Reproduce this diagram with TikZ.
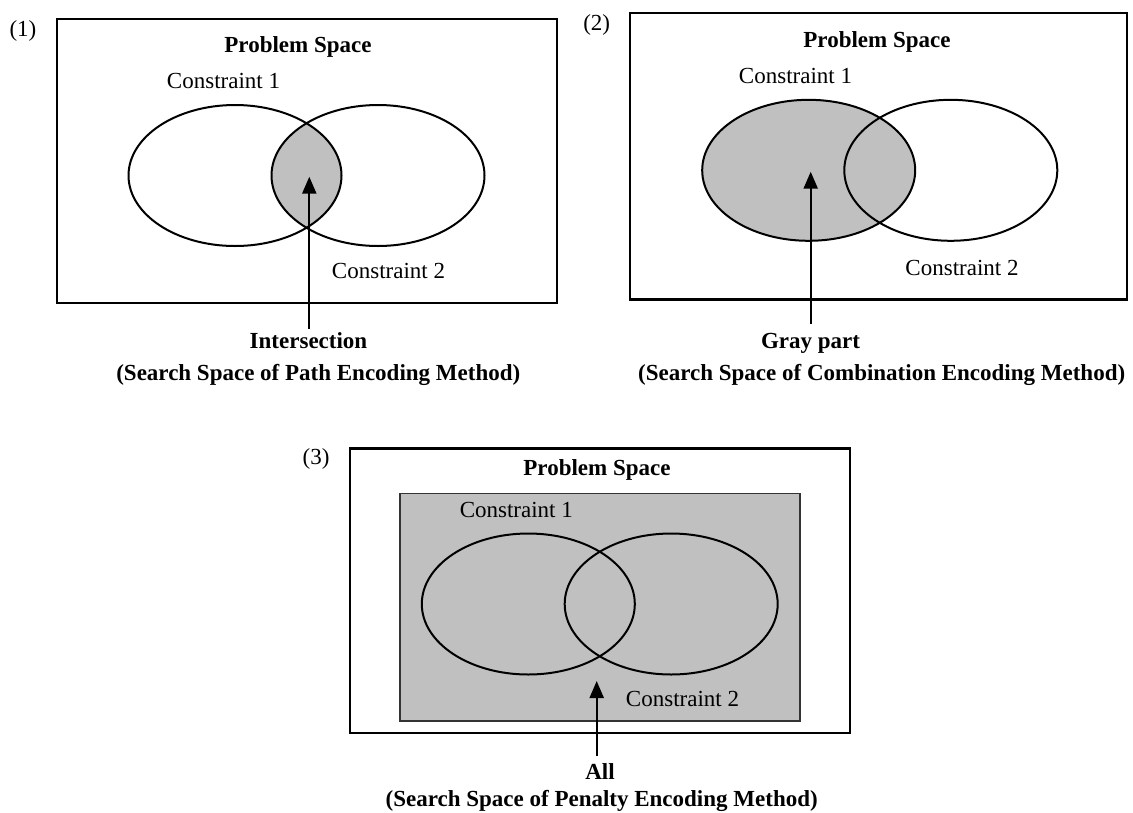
\documentclass[tikz,border=0pt]{standalone}
\usepackage{fontspec}
\setmainfont{Liberation Serif}
\usetikzlibrary{arrows.meta}
\definecolor{grayfill}{RGB}{192,192,192}
\tikzset{
  frame/.style={draw=black, line width=2.4pt},
  inner/.style={draw=black!80, line width=1.6pt, fill=grayfill},
  venn/.style={draw=black, line width=2pt},
  pointer/.style={draw=black, line width=2.2pt, -{Triangle[length=17pt,width=14pt]}},
  txt/.style={inner sep=0pt, anchor=base, font=\fontsize{23}{27}\selectfont},
  btxt/.style={txt, font=\fontsize{23}{27}\selectfont\bfseries},
}
\begin{document}
\begin{tikzpicture}[x=1pt,y=-1pt]
\useasboundingbox (0,0) rectangle (1133,812);
\fill[white] (0,0) rectangle (1133,812);

% ---------- Panel 1 ----------
\node[txt] (n1) at (23,36) {(1)};
\draw[frame] (57,19) rectangle (557,303);
\begin{scope}
  \clip (235,175.5) ellipse [x radius=106.5, y radius=70.5];
  \fill[grayfill] (378,175.5) ellipse [x radius=106.5, y radius=70.5];
\end{scope}
\draw[venn] (235,175.5) ellipse [x radius=106.5, y radius=70.5];
\draw[venn] (378,175.5) ellipse [x radius=106.5, y radius=70.5];
\node[btxt] (ps1) at (298,52) {Problem Space};
\node[txt] (c11) at (223.5,88.5) {Constraint 1};
\node[txt] (c21) at (388.5,278.3) {Constraint 2};
\coordinate (a1s) at (309.3,328.5);
\coordinate (a1t) at (309.3,176.7);
\draw[pointer] (a1s) -- (a1t);
\node[btxt] (l1a) at (308.5,348.5) {Intersection};
\node[btxt] (l1b) at (318.3,380) {(Search Space of Path Encoding Method)};

% ---------- Panel 2 ----------
\node[txt] (n2) at (596.7,30) {(2)};
\draw[frame] (630,13) rectangle (1127,299.3);
\fill[grayfill] (808.7,170.3) ellipse [x radius=106.5, y radius=70.5];
\draw[venn] (808.7,170.3) ellipse [x radius=106.5, y radius=70.5];
\draw[venn] (950.8,170.3) ellipse [x radius=106.5, y radius=70.5];
\node[btxt] (ps2) at (877,47) {Problem Space};
\node[txt] (c12) at (795.5,83) {Constraint 1};
\node[txt] (c22) at (962,275) {Constraint 2};
\coordinate (a2s) at (810.7,323.5);
\coordinate (a2t) at (810.7,171.7);
\draw[pointer] (a2s) -- (a2t);
\node[btxt] (l2a) at (810.5,348) {Gray part};
\node[btxt] (l2b) at (881.7,380) {(Search Space of Combination Encoding Method)};

% ---------- Panel 3 ----------
\node[txt] (n3) at (316,464) {(3)};
\draw[frame] (350,448.3) rectangle (850,733);
\draw[inner] (400,493.3) rectangle (800,721);
\draw[venn] (528.3,604) ellipse [x radius=106.5, y radius=70.5];
\draw[venn] (671.2,604) ellipse [x radius=106.5, y radius=70.5];
\node[btxt] (ps3) at (597,475.5) {Problem Space};
\node[txt] (c13) at (516.3,517) {Constraint 1};
\node[txt] (c23) at (682.5,706.7) {Constraint 2};
\coordinate (a3s) at (596.7,756);
\coordinate (a3t) at (596.7,681);
\draw[pointer] (a3s) -- (a3t);
\node[btxt] (l3a) at (600,779.5) {All};
\node[btxt] (l3b) at (601.7,806) {(Search Space of Penalty Encoding Method)};
\end{tikzpicture}
\end{document}
